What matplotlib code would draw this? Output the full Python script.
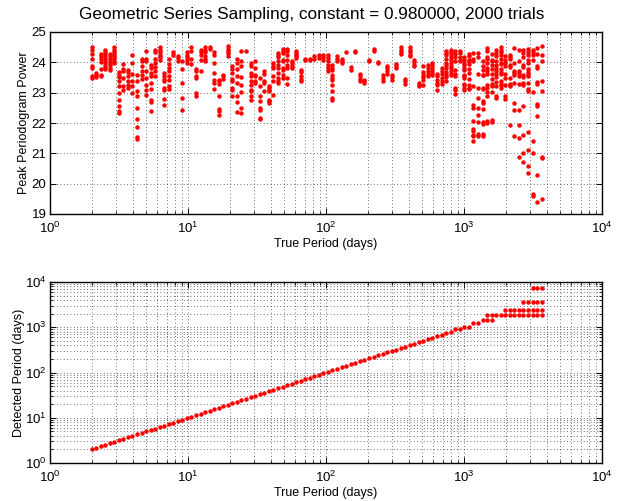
import matplotlib
matplotlib.use("Agg")
import matplotlib.pyplot as plt
from matplotlib.ticker import LogLocator, NullFormatter

plt.rcParams['font.family'] = ['Liberation Sans', 'DejaVu Sans']
plt.rcParams['mathtext.fontset'] = 'custom'
plt.rcParams['mathtext.rm'] = 'Liberation Sans'
plt.rcParams['mathtext.it'] = 'Liberation Sans'

title = "Geometric Series Sampling, constant = 0.980000, 2000 trials"
xlabel = "True Period (days)"
ylabel_top = "Peak Periodogram Power"
ylabel_bottom = "Detected Period (days)"

# True periods (days) of the 100 columns of trials
true_period = [
    2.00, 2.16, 2.33, 2.51, 2.71, 2.92, 3.15, 3.40, 3.67, 3.96,
    4.27, 4.61, 4.97, 5.36, 5.78, 6.24, 6.73, 7.26, 7.83, 8.45,
    9.12, 9.84, 10.6, 11.5, 12.4, 13.3, 14.4, 15.5, 16.7, 18.0,
    19.5, 21.0, 22.7, 24.4, 26.4, 28.5, 30.7, 33.1, 35.7, 38.5,
    41.6, 44.8, 48.4, 52.2, 56.3, 60.7, 65.5, 70.7, 76.3, 82.3,
    88.8, 95.8, 103, 111, 120, 130, 140, 151, 163, 176,
    190, 204, 221, 238, 257, 277, 299, 322, 348, 375,
    405, 436, 471, 508, 548, 591, 638, 688, 742, 801,
    864, 932, 1005, 1084, 1170, 1262, 1362, 1469, 1585, 1710,
    1844, 1990, 2147, 2316, 2498, 2695, 2908, 3137, 3384, 3651,
]

# Peak periodogram power of the trials at each true period
peak_power = [
    [24.49, 24.42, 24.27, 24.11, 23.87, 23.81, 23.54, 23.48],
    [23.65, 23.57, 23.50],
    [24.27, 24.20, 24.12, 24.00, 23.78, 23.59, 23.54],
    [24.42, 24.34, 24.27, 24.16, 24.12, 24.00, 23.92, 23.85, 23.79],
    [24.27, 24.20, 24.12, 24.05, 23.98, 23.90, 23.81, 23.76],
    [24.49, 24.42, 24.34, 24.27, 24.20, 24.14, 24.05, 23.98],
    [23.67, 23.59, 23.51, 23.37, 23.21, 22.99, 22.77, 22.57, 22.38, 22.33],
    [23.94, 23.78, 23.70, 23.48, 23.21, 23.10],
    [23.76, 23.68, 23.54, 23.37, 23.26, 23.15],
    [24.23, 23.98, 23.61, 23.37, 23.21, 22.99],
    [23.57, 23.37, 23.06, 22.88, 22.49, 22.13, 21.86, 21.53, 21.48],
    [24.12, 24.03, 23.87, 23.70, 23.57, 23.46],
    [24.39, 24.12, 24.05, 23.70, 23.48, 23.26, 23.10, 22.93],
    [23.92, 23.81, 23.65, 23.54, 23.32, 23.12, 22.77, 22.68, 22.41],
    [24.42, 24.33, 24.11, 23.98, 23.84, 23.70, 23.56],
    [24.50, 24.42, 24.34, 24.25, 24.16, 24.09],
    [23.65, 23.56, 23.45, 23.37, 23.15, 23.10, 22.79, 22.60],
    [24.11, 23.95, 23.81, 23.70, 23.54, 23.43, 23.23, 23.12],
    [24.33, 24.25],
    [24.22, 24.14, 24.06],
    [24.03, 23.78, 23.32, 22.82, 22.44],
    [24.33, 24.25, 24.16, 24.09, 23.99],
    [24.50, 24.39, 24.11, 23.95],
    [23.78, 23.73, 23.56, 23.48, 22.99, 22.88],
    [24.42, 24.33, 24.25, 24.09, 23.70],
    [24.50, 24.42, 24.34, 24.20, 24.12, 24.03],
    [24.50, 24.45],
    [24.33, 24.25, 23.98, 23.65, 23.43, 23.32, 23.12],
    [23.43, 23.37, 23.29, 22.90, 22.46, 22.38, 22.27],
    [23.59, 23.54, 23.45],
    [24.53, 24.45, 24.38, 24.30, 24.22],
    [23.87, 23.78, 23.65, 23.45, 23.40, 23.15, 23.10, 22.88],
    [24.11, 23.98, 23.78, 23.54, 23.32, 22.88, 22.68, 22.35],
    [24.39, 24.03, 23.87, 23.51, 23.26, 23.01, 22.49, 22.33],
    [24.39],
    [23.98, 23.87, 23.65, 23.54, 23.37, 23.26, 23.10, 23.04, 22.88, 22.77],
    [24.03, 23.81, 23.59, 23.54, 23.37, 23.32],
    [23.48, 23.21, 22.88, 22.71, 22.49, 22.44, 22.18, 22.13],
    [23.70, 23.61, 23.37, 23.32, 23.04],
    [23.21, 23.15, 23.10, 23.04, 22.77, 22.71, 22.66],
    [23.98, 23.87, 23.81, 23.54, 23.37, 22.91],
    [24.31, 24.23, 24.16, 24.03, 23.90, 23.81, 23.65, 23.48, 23.37, 23.32],
    [24.45, 24.38, 24.31, 24.09, 24.03, 23.81, 23.76, 23.59, 23.48],
    [24.45, 24.36, 24.25, 24.09, 23.92, 23.81, 23.48, 23.28],
    [24.05, 23.98, 23.87, 23.81],
    [24.36, 24.31, 24.25, 24.20, 24.14],
    [23.76, 23.68, 23.54, 23.46, 23.37],
    [24.12, 24.09],
    [24.12, 24.09],
    [24.20, 24.12],
    [24.23, 24.14],
    [24.25, 24.16, 24.09],
    [24.23, 24.14, 24.03, 23.90, 23.81, 23.72],
    [23.90, 23.81, 23.76, 23.59, 23.48, 23.43, 23.24, 23.06, 22.82, 22.77],
    [24.20, 24.12, 24.05],
    [24.12, 24.05, 23.98],
    [24.34],
    [23.83, 23.76],
    [24.38, 24.34],
    [23.61, 23.54, 23.46, 23.39],
    [23.43, 23.37, 23.32],
    [24.09, 24.05],
    [24.45, 24.38],
    [24.01, 23.98],
    [23.57, 23.48, 23.39],
    [23.87, 23.81, 23.70, 23.61],
    [23.59, 23.50, 23.43],
    [23.94, 23.87, 23.81],
    [24.49, 24.42, 24.34, 24.27],
    [23.46, 23.37, 23.28],
    [24.49, 24.42, 24.34, 24.25, 24.20],
    [24.09, 24.01, 23.92, 23.87],
    [23.32, 23.26, 23.21],
    [23.87, 23.68, 23.59, 23.50, 23.43, 23.24],
    [23.90, 23.81, 23.72, 23.61, 23.54],
    [23.98, 23.90, 23.81, 23.72, 23.65, 23.59],
    [23.61, 23.54, 23.43, 23.32, 23.26, 23.10],
    [23.81, 23.70, 23.61, 23.48, 23.37, 23.28],
    [24.38, 24.31, 24.23, 24.12, 23.98, 23.90, 23.81, 23.68, 23.59, 23.50, 23.37],
    [24.42, 24.34, 24.27, 24.16, 24.09, 23.98, 23.87, 23.81, 23.72, 23.61, 23.57],
    [24.36, 24.27, 24.16, 24.05, 23.76, 23.61, 23.54, 23.15, 23.10, 22.95],
    [24.38, 24.31, 24.16, 24.09, 24.03],
    [24.16, 24.09, 23.98, 23.92, 23.81, 23.76, 23.59, 23.54, 23.48, 23.28, 23.24, 23.17, 23.10],
    [24.27, 24.20, 24.09, 24.03, 23.94, 23.79, 23.65, 23.46, 23.26, 23.17, 23.13],
    [24.31, 24.12, 24.05, 23.21, 22.60, 22.51, 22.07, 21.81, 21.74, 21.59, 21.56, 21.41],
    [24.31, 24.16, 23.61, 23.17, 22.82, 22.51, 22.25, 22.03, 21.63, 21.56],
    [24.03, 23.87, 23.76, 23.59, 23.57, 23.17, 23.13, 22.71, 22.66, 22.47, 22.03, 21.96, 21.63, 21.56],
    [24.47, 24.38, 24.16, 24.12, 23.98, 23.81, 23.72, 23.61, 23.26, 23.17, 23.02, 22.88, 22.07, 22.00],
    [24.27, 24.09, 24.03, 23.92, 23.79, 23.61, 23.46, 23.28, 23.21, 23.02, 22.10, 22.03],
    [24.42, 24.31, 24.20, 24.03, 23.92, 23.81, 23.72, 23.61, 23.50, 23.35, 23.21, 22.88, 22.82],
    [24.49, 24.42, 24.34, 24.23, 24.12, 23.98, 23.94, 23.79, 23.68, 23.61, 23.39, 23.28, 23.24, 23.17],
    [24.20, 24.09, 23.98, 23.87, 23.61, 23.48, 23.24, 22.88, 22.79],
    [24.23, 24.16, 24.12, 23.90, 23.83, 23.48, 23.28, 23.24, 23.21, 21.94],
    [24.47, 23.98, 23.72, 23.65, 23.57, 23.32, 22.66, 22.44, 21.56],
    [24.42, 24.05, 23.72, 23.65, 23.54, 23.28, 22.44, 21.94, 21.52, 20.89],
    [24.42, 24.31, 24.16, 23.92, 23.83, 23.57, 23.50, 23.32, 23.24, 22.55, 21.59, 21.00, 20.71],
    [24.45, 24.34, 24.25, 24.09, 23.98, 23.79, 23.68, 23.61, 23.54, 23.32, 23.13, 23.04, 21.70, 21.11, 20.57, 20.35],
    [24.42, 24.34, 24.23, 24.09, 23.02, 21.41, 21.00, 19.65, 19.58],
    [24.47, 24.27, 23.87, 23.81, 23.35, 23.28, 22.62, 22.55, 22.22, 20.29, 19.41],
    [24.53, 24.25, 24.05, 23.37, 23.04, 20.89, 20.86, 19.50],
]

# Detected period (days) for each true period; the first 80 match the true period
detected_period = true_period[:80] + [
    893, 893, 1020, 1020, 1213, 1213, 1480, 1480, 1480, 1850,
    1850, 1850, 1850, 1850, 1850, 1850, 1850, 1850, 1850, 1850,
]
# Additional (aliased) detections at long periods
alias_true = [1469, 1585,
              1990, 2147, 2316, 2498, 2695, 2908, 3137, 3384, 3651,
              2695, 2908, 3137, 3384, 3651,
              3137, 3384, 3651]
alias_detected = [1850, 1850,
                  2450, 2450, 2450, 2450, 2450, 2450, 2450, 2450, 2450,
                  3630, 3630, 3630, 3630, 3630,
                  7380, 7380, 7380]

W, H = 619, 501
fig = plt.figure(figsize=(W / 100, H / 100), dpi=100)
L, R = 50, 602
ax1 = fig.add_axes([L / W, 1 - 214 / H, (R - L) / W, 182 / H])
ax2 = fig.add_axes([L / W, 1 - 463 / H, (R - L) / W, 181 / H])

mk = dict(linestyle='none', marker='o', markersize=3.2, color='#ff0000',
          markeredgewidth=0)

# Top panel
xs, ys = [], []
for p, vals in zip(true_period, peak_power):
    for v in vals:
        xs.append(p)
        ys.append(v)
ax1.plot(xs, ys, **mk)
ax1.set_xscale('log')
ax1.set_xlim(1, 1e4)
ax1.set_ylim(19, 25)
ax1.set_yticks([19, 20, 21, 22, 23, 24, 25])

# Bottom panel
ax2.plot(true_period, detected_period, **mk)
ax2.plot(alias_true, alias_detected, **mk)
ax2.set_xscale('log')
ax2.set_yscale('log')
ax2.set_xlim(1, 1e4)
ax2.set_ylim(1, 1e4)

grid_kw = dict(color='0.25', linestyle=(0, (1, 3)), linewidth=0.6)
for ax in (ax1, ax2):
    ax.xaxis.set_major_locator(LogLocator(base=10, numticks=10))
    ax.xaxis.set_minor_locator(LogLocator(base=10, subs=range(2, 10), numticks=20))
    ax.xaxis.set_minor_formatter(NullFormatter())
    ax.grid(True, which='major', axis='both', **grid_kw)
    ax.grid(True, which='minor', axis='x', **grid_kw)
    ax.tick_params(which='both', direction='in', top=True, right=True,
                   labelsize=9.5)
    ax.tick_params(axis='x', which='major', pad=5)
    ax.tick_params(axis='y', which='major', pad=2.5)
    ax.tick_params(which='major', length=4, width=0.7)
    ax.tick_params(which='minor', length=2.5, width=0.6)
    for s in ax.spines.values():
        s.set_linewidth(1.0)
    ax.set_xlabel(xlabel, fontsize=9, labelpad=1)
    ax.set_axisbelow(True)

ax2.yaxis.set_major_locator(LogLocator(base=10, numticks=10))
ax2.yaxis.set_minor_locator(LogLocator(base=10, subs=range(2, 10), numticks=20))
ax2.yaxis.set_minor_formatter(NullFormatter())
ax2.grid(True, which='minor', axis='y', **grid_kw)

ax1.set_ylabel(ylabel_top, fontsize=9, labelpad=1)
ax2.set_ylabel(ylabel_bottom, fontsize=9, labelpad=0)

fig.text(312 / W, 1 - 19.5 / H, title, ha='center', va='baseline', fontsize=12.4)

fig.savefig('out.png', dpi=100)
